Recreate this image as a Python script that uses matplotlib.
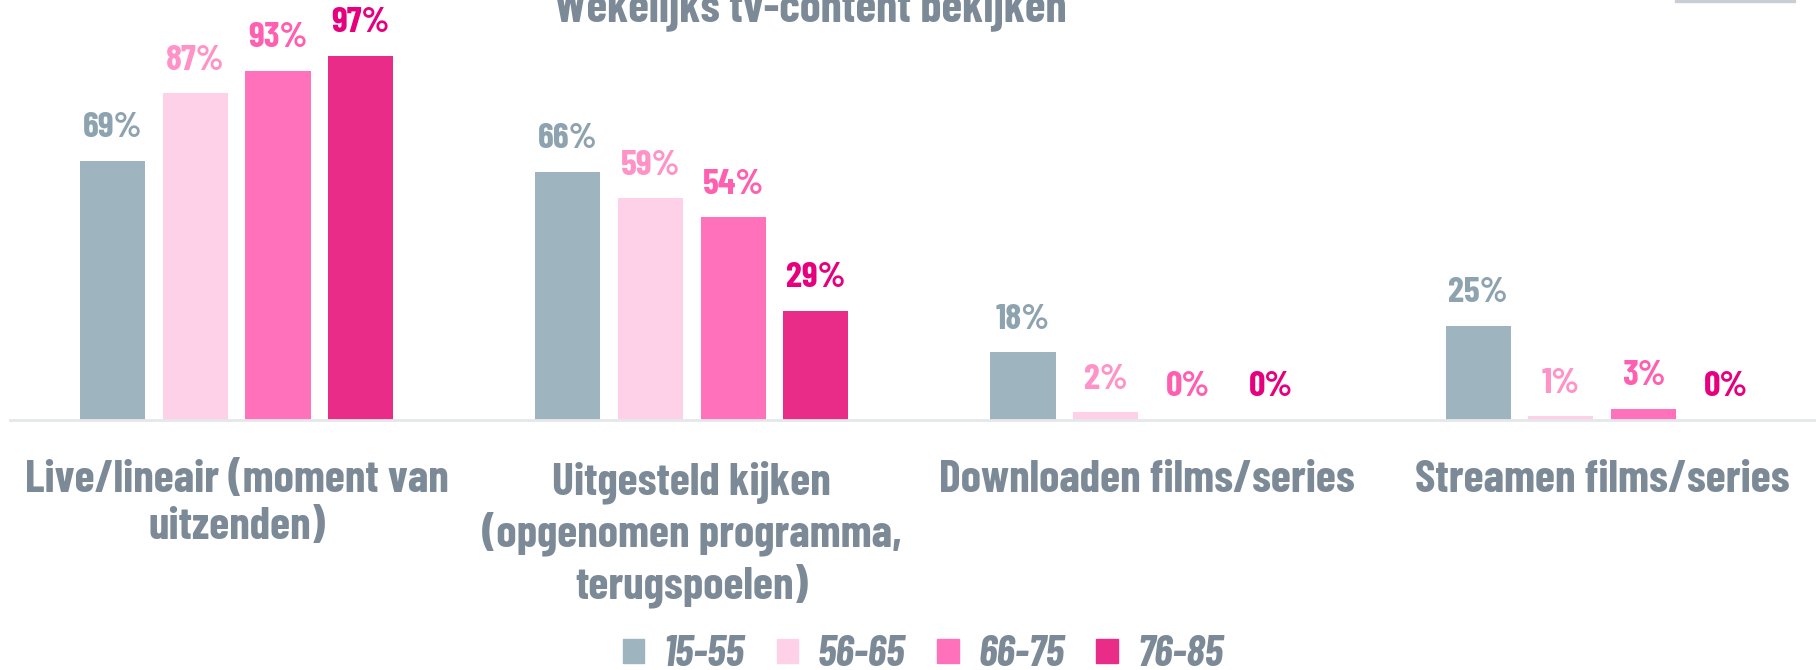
import numpy as np
import matplotlib.pyplot as plt
from matplotlib.patches import Patch, Rectangle

# data
categories = ["Live/lineair (moment van\nuitzenden)",
              "Uitgesteld kijken\n(opgenomen programma,\nterugspoelen)",
              "Downloaden films/series",
              "Streamen films/series"]
age_groups = ["15-55", "56-65", "66-75", "76-85"]
v_15_55 = [69, 66, 18, 25]
v_56_65 = [87, 59, 2, 1]
v_66_75 = [93, 54, 0, 3]
v_76_85 = [97, 29, 0, 0]
series = [v_15_55, v_56_65, v_66_75, v_76_85]

bar_colors = ["#9eb4bf", "#ffd1e8", "#ff72bb", "#e92c88"]
label_colors = ["#8ea3b0", "#ff93c8", "#ff5fb0", "#e6007e"]
grey = "#7b8a96"
font = ["Barlow Condensed", "DejaVu Sans"]

fig = plt.figure(figsize=(18.16, 6.70), dpi=100)
ax = fig.add_axes([10 / 1816, 250 / 670, 1806 / 1816, 375.6 / 670])

x = np.arange(len(categories))
width = 0.143
step = 0.1815
for i, vals in enumerate(series):
    pos = x + (i - 1.5) * step
    bars = ax.bar(pos, vals, width, color=bar_colors[i], label=age_groups[i])
    for b, v in zip(bars, vals):
        ax.annotate(f"{v}%", (b.get_x() + b.get_width() / 2, v),
                    xytext=(0, 12), textcoords="offset points",
                    ha="center", va="bottom", fontsize=26, fontweight="bold",
                    color=label_colors[i], family=font, annotation_clip=False)

ax.set_xlim(-0.498, 3.47)
ax.set_ylim(0, 100)
ax.set_yticks([])
ax.set_xticks(x)
ax.set_xticklabels(categories, fontsize=33, fontweight="bold", color=grey,
                   family=font, linespacing=1.22)
ax.tick_params(axis="x", length=0, pad=29)
for s in ["top", "right", "left"]:
    ax.spines[s].set_visible(False)
ax.spines["bottom"].set_color("#e4e8eb")
ax.spines["bottom"].set_linewidth(2)

# title, cut off at the top edge in the reference
fig.text(810 / 1816, 1 - 21 / 670, "Wekelijks tv-content bekijken",
         ha="center", va="baseline", fontsize=34, fontweight="bold",
         color=grey, family=font)

# small grey element at top right
fig.patches.append(Rectangle((1675 / 1816, 668 / 670), 120 / 1816, 2 / 670,
                             transform=fig.transFigure, color="#c9ced4"))

handles = [Patch(color=c) for c in bar_colors]
leg = fig.legend(handles, age_groups, loc="center", ncol=4,
                 bbox_to_anchor=(923 / 1816, 15 / 670), frameon=False,
                 handlelength=0.5, handleheight=0.5, handletextpad=0.45,
                 columnspacing=0.75, borderpad=0.1,
                 prop={"family": font, "size": 31, "weight": "bold", "style": "italic"})
for t in leg.get_texts():
    t.set_color(grey)

plt.savefig("out.png", dpi=100)
